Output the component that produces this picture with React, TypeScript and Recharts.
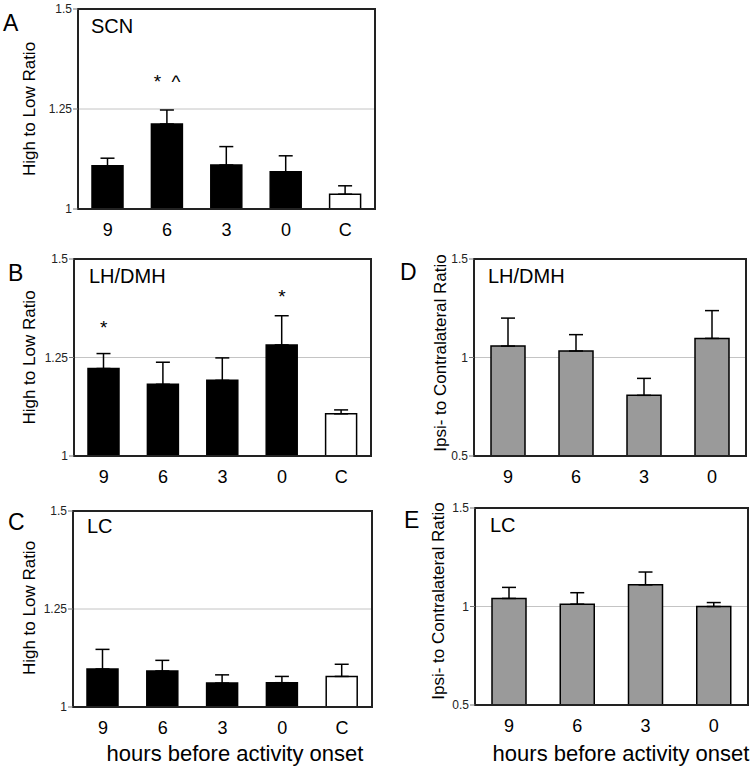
import React from "react";
import {
  BarChart,
  Bar,
  XAxis,
  YAxis,
  CartesianGrid,
  ErrorBar,
  Cell,
  ReferenceDot,
  ReferenceArea,
} from "recharts";

// ---------- data ----------
const hoursLeft = ["9", "6", "3", "0", "C"];
const hoursRight = ["9", "6", "3", "0"];

const scnMean = [1.108, 1.2125, 1.11, 1.093, 1.037];
const scnErr = [0.019, 0.035, 0.046, 0.04, 0.021];
const scnSig = ["", "*\u00A0\u00A0^", "", "", ""];
const scnSigLevel = [0, 1.32, 0, 0, 0];

const lhHighLowMean = [1.222, 1.182, 1.192, 1.282, 1.107];
const lhHighLowErr = [0.038, 0.056, 0.057, 0.074, 0.01];
const lhSig = ["*", "", "", "*", ""];
const lhSigLevel = [1.326, 0, 0, 1.406, 0];

const lcHighLowMean = [1.097, 1.092, 1.061, 1.062, 1.078];
const lcHighLowErr = [0.05, 0.027, 0.021, 0.016, 0.031];

const lhIpsiMean = [1.058, 1.033, 0.808, 1.097];
const lhIpsiErr = [0.142, 0.083, 0.086, 0.141];

const lcIpsiMean = [1.041, 1.012, 1.11, 1.0];
const lcIpsiErr = [0.056, 0.058, 0.065, 0.02];

const highLowTicks = [1, 1.25, 1.5];
const ipsiTicks = [0.5, 1, 1.5];

const leftFills = ["#000000", "#000000", "#000000", "#000000", "#ffffff"];
const rightFills = ["#9a9a9a", "#9a9a9a", "#9a9a9a", "#9a9a9a"];

const FONT = "'Liberation Sans', Arial, Helvetica, sans-serif";

type Row = { cat: string; mean: number; err: [number, number] };

function buildRows(cats: string[], means: number[], errs: number[]): Row[] {
  return cats.map((cat, i) => ({ cat, mean: means[i], err: [0, errs[i]] }));
}

type PanelProps = {
  L: number;
  T: number;
  R: number;
  B: number;
  rows: Row[];
  domain: [number, number];
  ticks: number[];
  fills: string[];
  barSize: number;
  sig?: string[];
  sigLevel?: number[];
};

const AXW = 70;
const MT = 10;
const MR = 10;
const XH = 40;

function Panel({ L, T, R, B, rows, domain, ticks, fills, barSize, sig, sigLevel }: PanelProps) {
  const w = R - L + AXW + MR;
  const h = B - T + MT + XH;
  return (
    <div style={{ position: "absolute", left: L - AXW, top: T - MT, width: w, height: h }}>
      <BarChart
        width={w}
        height={h}
        data={rows}
        margin={{ top: MT, right: MR, left: 0, bottom: 0 }}
        style={{ fontFamily: FONT }}
      >
        <CartesianGrid vertical={false} stroke="#c4c4c4" strokeWidth={1} />
        <Bar
          dataKey="mean"
          barSize={barSize}
          stroke="#000"
          strokeWidth={1.5}
          isAnimationActive={false}
        >
          {rows.map((r, i) => (
            <Cell key={r.cat} fill={fills[i]} />
          ))}
          <ErrorBar dataKey="err" width={7} stroke="#000" strokeWidth={1.5} direction="y" />
        </Bar>
        {sig &&
          sigLevel &&
          rows.map((r, i) =>
            sig[i] ? (
              <ReferenceDot
                key={"s" + r.cat}
                x={r.cat}
                y={sigLevel[i]}
                r={0}
                stroke="none"
                fill="none"
                label={{ value: sig[i], position: "center", fontSize: 19, fill: "#000", fontFamily: FONT }}
              />
            ) : null
          )}
        <ReferenceArea
          y1={domain[0]}
          y2={domain[1]}
          fill="none"
          fillOpacity={0}
          stroke="#222"
          strokeWidth={2}
          strokeOpacity={1}
          ifOverflow="visible"
        />
        <XAxis
          dataKey="cat"
          height={XH}
          tickLine={false}
          tickSize={0}
          tickMargin={14}
          axisLine={{ stroke: "#222", strokeWidth: 2 }}
          tick={{ fontSize: 18, fill: "#000", fontFamily: FONT }}
          interval={0}
        />
        <YAxis
          width={AXW}
          domain={domain}
          ticks={ticks}
          allowDataOverflow
          interval={0}
          tickSize={5}
          tickMargin={1}
          tickLine={{ stroke: "#777" }}
          axisLine={{ stroke: "#222", strokeWidth: 2 }}
          tick={{ fontSize: 12, fill: "#222", fontFamily: FONT }}
          tickFormatter={(v: number) => String(v)}
        />
      </BarChart>
    </div>
  );
}

export default function App() {
  const rowsA = buildRows(hoursLeft, scnMean, scnErr);
  const rowsB = buildRows(hoursLeft, lhHighLowMean, lhHighLowErr);
  const rowsC = buildRows(hoursLeft, lcHighLowMean, lcHighLowErr);
  const rowsD = buildRows(hoursRight, lhIpsiMean, lhIpsiErr);
  const rowsE = buildRows(hoursRight, lcIpsiMean, lcIpsiErr);

  return (
    <div
      style={{
        position: "absolute",
        left: 0,
        top: 0,
        width: 756,
        height: 770,
        background: "#fff",
        overflow: "hidden",
        fontFamily: FONT,
      }}
    >
      <Panel L={78} T={9} R={375} B={209} rows={rowsA} domain={[1, 1.5]} ticks={highLowTicks}
        fills={leftFills} barSize={31} sig={scnSig} sigLevel={scnSigLevel} />
      <Panel L={74} T={259} R={371} B={456} rows={rowsB} domain={[1, 1.5]} ticks={highLowTicks}
        fills={leftFills} barSize={31} sig={lhSig} sigLevel={lhSigLevel} />
      <Panel L={73} T={511} R={372} B={707} rows={rowsC} domain={[1, 1.5]} ticks={highLowTicks}
        fills={leftFills} barSize={31} />
      <Panel L={474} T={259} R={746} B={456} rows={rowsD} domain={[0.5, 1.5]} ticks={ipsiTicks}
        fills={rightFills} barSize={34} />
      <Panel L={475} T={508} R={748} B={705} rows={rowsE} domain={[0.5, 1.5]} ticks={ipsiTicks}
        fills={rightFills} barSize={34} />

      <svg
        width={756}
        height={770}
        style={{ position: "absolute", left: 0, top: 0, pointerEvents: "none" }}
        fontFamily={FONT}
      >
        {/* panel letters */}
        <text x={3} y={31} fontSize={23} fill="#000">A</text>
        <text x={8} y={281} fontSize={23} fill="#000">B</text>
        <text x={8} y={530} fontSize={23} fill="#000">C</text>
        <text x={400} y={280} fontSize={23} fill="#000">D</text>
        <text x={404} y={528} fontSize={23} fill="#000">E</text>

        {/* region names */}
        <text x={91} y={33} fontSize={20} fill="#000">SCN</text>
        <text x={89} y={283} fontSize={20} fill="#000">LH/DMH</text>
        <text x={87} y={533} fontSize={20} fill="#000">LC</text>
        <text x={488} y={283} fontSize={20} fill="#000">LH/DMH</text>
        <text x={490} y={532} fontSize={20} fill="#000">LC</text>

        {/* y-axis titles */}
        <text transform="translate(34.5,109) rotate(-90)" textAnchor="middle" fontSize={17} fill="#000">High to Low Ratio</text>
        <text transform="translate(34.5,357.5) rotate(-90)" textAnchor="middle" fontSize={17} fill="#000">High to Low Ratio</text>
        <text transform="translate(34.5,608) rotate(-90)" textAnchor="middle" fontSize={17} fill="#000">High to Low Ratio</text>
        <text transform="translate(446,353) rotate(-90)" textAnchor="middle" fontSize={17} fill="#000">Ipsi- to Contralateral Ratio</text>
        <text transform="translate(443.5,601) rotate(-90)" textAnchor="middle" fontSize={17} fill="#000">Ipsi- to Contralateral Ratio</text>

        {/* x-axis titles */}
        <text x={235} y={761} textAnchor="middle" fontSize={22} fill="#000">hours before activity onset</text>
        <text x={621} y={761} textAnchor="middle" fontSize={22} fill="#000">hours before activity onset</text>
      </svg>
    </div>
  );
}
